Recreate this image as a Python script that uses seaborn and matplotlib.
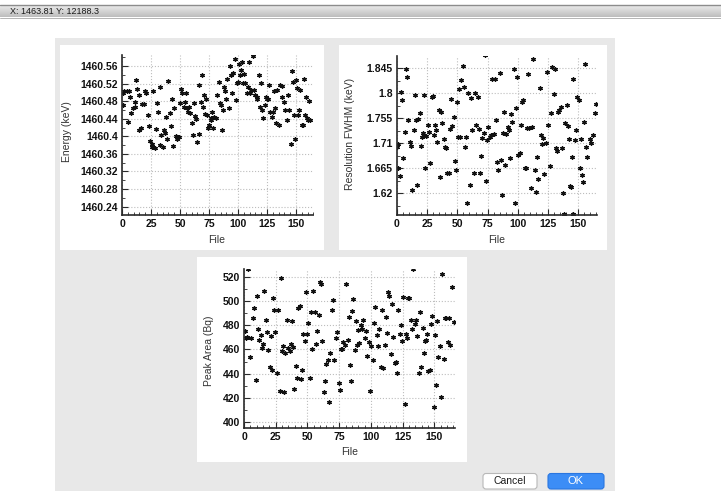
import matplotlib
matplotlib.use('Agg')
import matplotlib.pyplot as plt
import seaborn as sns
import numpy as np
from matplotlib.patches import Rectangle, FancyBboxPatch
from matplotlib.colors import LinearSegmentedColormap
from matplotlib.ticker import MultipleLocator, FuncFormatter

# ---------------- data (File index, value) ----------------
energy_pts = [(0.5,1460.471),(1,1460.498),(2,1460.502),(4,1460.504),(5,1460.433),(6,1460.502),(7,1460.489),(8,1460.452),
(9.5,1460.464),(11,1460.467),(11.5,1460.477),(12,1460.527),(13,1460.507),(14.5,1460.494),(15,1460.414),(16.5,1460.418),
(17.5,1460.474),(18.7,1460.474),(20,1460.502),(21,1460.498),(22.5,1460.449),(23.6,1460.424),(24.5,1460.39),(25.5,1460.383),
(26,1460.376),(27,1460.502),(28,1460.373),(29,1460.416),(30,1460.475),(31,1460.456),(32.5,1460.513),(33,1460.38),
(34,1460.403),(35.5,1460.376),(36,1460.414),(37,1460.408),(38,1460.443),(39,1460.393),(40,1460.526),(41,1460.454),
(42,1460.424),(43,1460.485),(44,1460.378),(45,1460.465),(46.5,1460.4),(47.5,1460.395),(48.7,1460.399),(50,1460.475),
(51,1460.507),(52,1460.499),(53,1460.467),(54,1460.479),(55,1460.499),(56,1460.464),(57,1460.456),(58,1460.467),
(59,1460.454),(60,1460.431),(61,1460.403),(62,1460.475),(63,1460.446),(64,1460.439),(65,1460.388),(66,1460.517),
(66.6,1460.405),(67.8,1460.479),(68.6,1460.54),(70,1460.467),(70.7,1460.494),(71.8,1460.451),(72.7,1460.486),(73.5,1460.449),
(74.4,1460.418),(75.3,1460.426),(76.4,1460.437),(77,1460.441),(77.9,1460.456),(78.7,1460.42),(79.6,1460.445),(80.8,1460.441),
(82,1460.494),(83.4,1460.524),(84.2,1460.475),(85,1460.471),(86,1460.414),(86.8,1460.461),(88,1460.513),(88.8,1460.502),
(90,1460.486),(90.9,1460.53),(92.3,1460.464),(93.2,1460.56),(94.3,1460.54),(95.2,1460.499),(96,1460.545),(97,1460.577),
(98,1460.483),(99.2,1460.521),(100,1460.524),(101,1460.565),(102,1460.54),(103,1460.551),(103.8,1460.57),(104.7,1460.521),
(105.6,1460.542),(106.4,1460.521),(107.6,1460.499),(108.7,1460.513),(109.6,1460.568),(110.5,1460.499),(111.6,1460.505),(112.8,1460.583),
(114,1460.505),(114.8,1460.494),(116,1460.49),(116.8,1460.486),(118,1460.54),(118.8,1460.467),(119.7,1460.521),(120.9,1460.46),
(122,1460.441),(123,1460.471),(124,1460.49),(125,1460.486),(125.8,1460.484),(127,1460.517),(127.8,1460.456),(129,1460.443),
(129.8,1460.456),(130.7,1460.504),(131.8,1460.464),(133,1460.43),(134.1,1460.505),(135.3,1460.426),(136.4,1460.517),(137.6,1460.515),
(138.4,1460.49),(139.3,1460.479),(140.8,1460.461),(142,1460.436),(143,1460.494),(144.2,1460.461),(145.4,1460.383),(146.2,1460.549),
(147.1,1460.524),(148,1460.449),(149,1460.395),(150,1460.528),(150.9,1460.509),(152,1460.449),(152.9,1460.461),(153.7,1460.505),
(154.9,1460.426),(155.8,1460.426),(157,1460.53),(157.8,1460.449),(158.9,1460.489),(159.8,1460.441),(160.7,1460.437),(161.5,1460.481),
(162.4,1460.437)]

fwhm_pts = [(0,1.704),(0.6,1.709),(1.1,1.665),(2.5,1.651),(3.3,1.803),(4.4,1.788),(5.2,1.683),(6.6,1.731),(7.4,1.843),(8.5,1.829),
(9.4,1.752),(10.8,1.713),(11.6,1.705),(12.7,1.626),(13.8,1.734),(14.9,1.797),(16.0,1.752),(16.8,1.635),(17.6,1.753),(18.7,1.765),
(19.9,1.705),(21.0,1.722),(21.5,1.728),(22.6,1.797),(23.4,1.666),(24.3,1.723),(25.4,1.743),(26.5,1.731),(27.6,1.675),(28.7,1.793),
(29.5,1.795),(30.3,1.725),(31.4,1.743),(32.3,1.733),(33.4,1.713),(34.5,1.770),(35.6,1.649),(36.4,1.767),(37.5,1.747),(38.6,1.717),
(39.7,1.703),(40.8,1.701),(41.6,1.656),(42.7,1.657),(43.8,1.735),(44.7,1.789),(45.8,1.741),(46.9,1.757),(47.7,1.679),(48.5,1.662),
(49.4,1.785),(50.2,1.721),(51.0,1.807),(52.1,1.721),(52.9,1.823),(54.3,1.849),(55.1,1.812),(56.2,1.704),(57.3,1.721),(58.2,1.602),
(59.0,1.801),(60.1,1.635),(61.2,1.791),(62.3,1.734),(63.4,1.657),(64.5,1.801),(65.6,1.743),(66.7,1.793),(67.8,1.735),(68.7,1.657),
(69.5,1.687),(70.3,1.719),(71.7,1.729),(72.8,1.869),(73.6,1.643),(74.7,1.716),(75.5,1.739),(76.6,1.721),(77.7,1.725),(78.9,1.825),
(80.0,1.726),(80.8,1.825),(81.9,1.752),(82.7,1.677),(83.8,1.662),(84.9,1.836),(85.7,1.680),(86.6,1.617),(87.7,1.728),(88.5,1.767),
(89.3,1.671),(90.4,1.726),(91.5,1.739),(92.4,1.734),(93.2,1.683),(94.3,1.763),(95.4,1.749),(96.5,1.843),(97.6,1.603),(98.4,1.773),
(99.5,1.829),(100.4,1.689),(101.5,1.693),(102.6,1.743),(103.7,1.785),(104.5,1.787),(105.6,1.665),(106.7,1.665),(107.5,1.737),(108.6,1.835),
(109.7,1.737),(110.8,1.629),(111.9,1.739),(112.8,1.861),(113.9,1.662),(115.0,1.623),(116.1,1.686),(116.9,1.645),(118.0,1.809),(119.1,1.725),
(120.2,1.709),(121.3,1.719),(122.1,1.655),(123.2,1.711),(124.3,1.839),(125.2,1.743),(126.3,1.669),(127.4,1.765),(128.5,1.847),(129.6,1.799),
(130.7,1.843),(131.8,1.701),(132.6,1.697),(133.4,1.767),(134.5,1.770),(135.6,1.775),(136.5,1.701),(137.6,1.621),(138.4,1.583),(139.5,1.746),
(140.6,1.779),(141.4,1.741),(142.3,1.717),(143.1,1.633),(143.9,1.632),(145.0,1.686),(146.0,1.582),(146.1,1.825),(147.2,1.716),(148.3,1.733),
(149.4,1.793),(150.3,1.788),(151.4,1.665),(152.2,1.717),(153.3,1.653),(154.1,1.641),(154.9,1.749),(156.0,1.853),(156.9,1.704),(157.7,1.686),
(159.6,1.717),(161.0,1.710),(162.7,1.725),(163.8,1.765),(165.0,1.781)]

area_pts = [(0.5,475.2),(1.3,469.8),(2.6,470.6),(3.4,526.3),(4.5,454.1),(5.8,469.2),(7.4,486.2),(7.9,493.9),(9.2,434.9),(10,504.3),
(11.4,476.9),(12.1,467.8),(13.2,471.9),(14,461.5),(15.1,464.3),(16.1,508.2),(17.2,484.3),(18,474.1),(19,459.6),(20.1,445.9),
(21.1,471.4),(21.9,443.1),(23,502.7),(23.8,492.6),(24.8,474.7),(25.9,440.4),(26.9,492.6),(28,425.8),(29,518.6),(29.8,458.8),
(30.9,463.2),(31.7,424.7),(32.7,456.8),(33.8,484.3),(34.9,461.5),(36,458.8),(37,464.3),(37.8,483.5),(38.8,462.3),(39.6,427.5),
(40.9,446.7),(42,436.8),(42.8,494.5),(43.8,496.2),(44.9,435.7),(45.7,443.1),(46.7,472.5),(47.8,467),(48.9,507.6),(49.6,472.5),
(50.7,481.6),(51.8,436.3),(52.8,490.6),(53.6,460.4),(54.7,508.2),(55.7,490.6),(56.8,464.3),(57.9,475.2),(58.9,488.4),(59.7,515.9),
(60.7,513.7),(61.8,467),(62.8,424.7),(63.9,434),(65,447.8),(66,451.4),(67.1,416.5),(68.1,456.8),(69.2,492.6),(70,500.8),
(71.3,451.4),(72.4,469.2),(73.4,474.1),(74.5,432.1),(75.5,426.6),(76.6,460.4),(77.4,460.4),(78.4,465.9),(79.5,463.7),(80.5,513.7),
(81.6,467.8),(82.4,487),(83.4,447.2),(84.5,434),(85.3,491.7),(86.3,501.6),(87.4,459.6),(88.2,483.5),(89.3,463.7),(90,476.1),
(90.8,465.1),(91.9,480.2),(93,476.9),(94,484.3),(95.1,469.8),(96.1,475.2),(97.2,454.9),(98.2,466.5),(99.3,425.8),(100.3,463.2),
(101.4,451.4),(102.5,481.6),(103.5,495.3),(104.6,471.9),(105.6,463.2),(106.7,476.9),(107.7,445.9),(108.8,492.6),(109.9,444.5),(110.9,463.7),
(112,487),(112.8,473.3),(113.5,507.6),(114.6,504.3),(115.7,456),(116.7,497.2),(117.8,470.6),(118.8,448.6),(119.6,449.4),(120.7,440.4),
(121.7,492.6),(122.8,472.5),(123.8,480.2),(124.6,467),(125.7,503.5),(126.5,414.8),(127.3,472.5),(128.3,469.8),(129.4,502.2),(130.4,502.2),
(131.5,484.3),(132.6,476.9),(133.3,526.3),(134.4,480.7),(135.5,484.3),(136.5,471.4),(137.6,440.4),(138.6,490.6),(139.7,445.9),(140.7,478),
(141.5,456.8),(142.6,467),(143.6,467.8),(144.4,472.5),(145.2,442.3),(146.3,443.1),(147.3,480.7),(148.4,487.8),(149.5,412.9),(150.3,471.9),
(151,430.7),(152.1,483.5),(153.2,454.1),(154.2,463.2),(155.3,421.2),(156.3,521.9),(157.4,452.2),(158.4,486.2),(159.5,486.2),(160.5,465.9),
(161.6,485.7),(162.7,463.7),(164.2,511.8),(165.3,482.4)]

energy_file, energy_kev = map(list, zip(*energy_pts))
fwhm_file, fwhm_kev = map(list, zip(*fwhm_pts))
area_file, area_bq = map(list, zip(*area_pts))

energy_ticks = [1460.24, 1460.28, 1460.32, 1460.36, 1460.40, 1460.44, 1460.48, 1460.52, 1460.56]
fwhm_ticks = [1.62, 1.665, 1.71, 1.755, 1.8, 1.845]
area_ticks = [400, 420, 440, 460, 480, 500, 520]
file_ticks = [0, 25, 50, 75, 100, 125, 150]

# ---------------- figure ----------------
sns.set_style('ticks')
plt.rcParams['font.family'] = ['Liberation Sans', 'DejaVu Sans']

W, H = 721, 491
fig = plt.figure(figsize=(W / 100, H / 100), dpi=100)
fig.patch.set_facecolor('white')

bg = fig.add_axes([0, 0, 1, 1], zorder=0)
bar_cmap = LinearSegmentedColormap.from_list('bar', ['#ececec', '#bdbdbd'])
bg.imshow(np.linspace(0, 1, 40).reshape(-1, 1), extent=(0, W, 17, 5), cmap=bar_cmap, aspect='auto')
bg.set_xlim(0, W)
bg.set_ylim(H, 0)
bg.axis('off')
bg.plot([0, W], [4.5, 4.5], color='#8c8c8c', lw=1)
bg.plot([0, W], [17.5, 17.5], color='#a8a8a8', lw=0.6)
bg.text(10, 11.5, 'X: 1463.81 Y: 12188.3', fontsize=6.5, va='center', ha='left', color='#1a1a1a')

bg.add_patch(Rectangle((55, 38), 560, 460, fc='#e8e8e8', ec='none'))
for (x0, y0, x1, y1) in [(60, 45, 324, 250), (339, 45, 607, 250), (197, 257, 467, 462)]:
    bg.add_patch(Rectangle((x0, y0), x1 - x0, y1 - y0, fc='white', ec='none'))

# buttons
bg.add_patch(FancyBboxPatch((483, 473.5), 54, 15.5, boxstyle='round,pad=0,rounding_size=3',
                            fc='white', ec='#b8b8b8', lw=0.8))
bg.text(510, 481.5, 'Cancel', fontsize=7.5, ha='center', va='center', color='#1a1a1a')
bg.add_patch(FancyBboxPatch((548, 473.5), 56, 15.5, boxstyle='round,pad=0,rounding_size=3',
                            fc='#3c8df6', ec='#2a76e0', lw=0.8))
bg.text(576, 481.5, 'OK', fontsize=8, ha='center', va='center', color='white')


def px_axes(x0, x1, y0, y1):
    return fig.add_axes([x0 / W, 1 - y1 / H, (x1 - x0) / W, (y1 - y0) / H], zorder=2)


def style(ax, xlim, ylim, yticks, ystep, fmt):
    ax.set_facecolor('white')
    ax.set_xlim(*xlim)
    ax.set_ylim(*ylim)
    ax.set_xticks(file_ticks)
    ax.xaxis.set_minor_locator(MultipleLocator(5))
    ax.set_yticks(yticks)
    ax.yaxis.set_minor_locator(MultipleLocator(ystep / 2))
    ax.yaxis.set_major_formatter(FuncFormatter(fmt))
    for s in ['top', 'right']:
        ax.spines[s].set_visible(False)
    for s in ['left', 'bottom']:
        ax.spines[s].set_color('#2a2a2a')
        ax.spines[s].set_linewidth(1.2)
    ax.tick_params(which='both', direction='in', color='#2a2a2a', labelcolor='#111111',
                   labelsize=7.5)
    ax.tick_params(which='major', length=4, width=0.8, pad=3)
    ax.tick_params(which='minor', length=2, width=0.6)
    for lab in ax.get_xticklabels() + ax.get_yticklabels():
        lab.set_fontweight('bold')
    ax.grid(True, which='major', ls=':', color='#bdbdbd', lw=0.8)
    ax.set_axisbelow(True)
    ax.set_xlabel('')
    ax.set_ylabel('')


def scatter(ax, x, y):
    sns.scatterplot(x=x, y=y, ax=ax, marker=(6, 2, 0), s=7, color='#111111',
                    linewidth=1.0, legend=False)


def px_text(x, y, s, rot=0):
    fig.text(x / W, 1 - y / H, s, fontsize=7.5, color='#333333', ha='center', va='center',
             rotation=rot)


# Energy
ax1 = px_axes(122.1, 313.3, 55, 215)
scatter(ax1, energy_file, energy_kev)
style(ax1, (0, 165), (1460.221, 1460.585), energy_ticks, 0.04,
      lambda v, p: f'{v:.2f}'.rstrip('0').rstrip('.'))
px_text(67, 132, 'Energy (keV)', 90)
px_text(217, 240, 'File')

# Resolution
ax2 = px_axes(397, 597, 56, 215)
scatter(ax2, fwhm_file, fwhm_kev)
style(ax2, (0, 165.6), (1.581, 1.867), fwhm_ticks, 0.045,
      lambda v, p: f'{v:.3f}'.rstrip('0').rstrip('.'))
px_text(350, 134, 'Resolution FWHM (keV)', 90)
px_text(497, 240, 'File')

# Peak area
ax3 = px_axes(244, 455, 269, 428.3)
scatter(ax3, area_file, area_bq)
style(ax3, (0, 166.3), (395, 526.3), area_ticks, 20, lambda v, p: f'{v:.0f}')
px_text(209, 351, 'Peak Area (Bq)', 90)
px_text(349.5, 452, 'File')

fig.savefig('out.png', dpi=100, facecolor='white')
